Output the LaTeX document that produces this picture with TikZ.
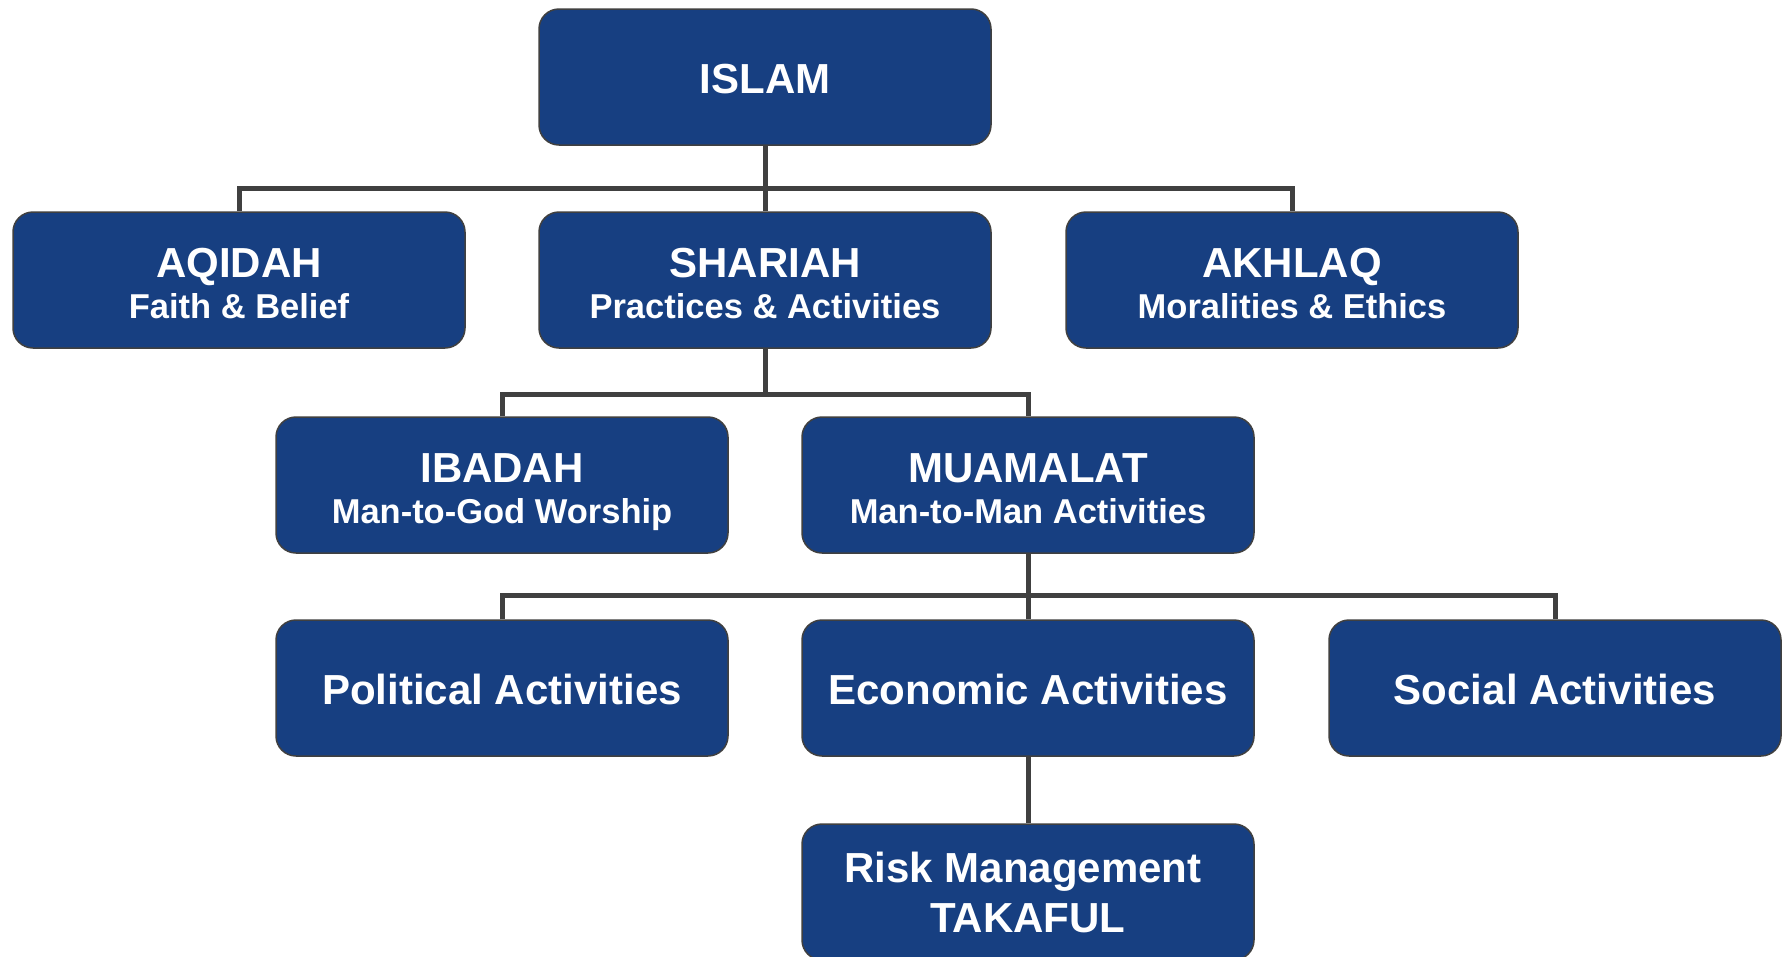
\documentclass[tikz,border=0pt]{standalone}
\usepackage{fontspec}
\setmainfont{Liberation Sans}
\definecolor{boxblue}{HTML}{173F81}
\definecolor{linegray}{HTML}{404040}
\begin{document}
\begin{tikzpicture}[x=1pt,y=-1pt,
  box/.style={draw=linegray, line width=1.5pt, fill=boxblue, rounded corners=20pt,
    minimum width=452pt, minimum height=136pt, inner sep=0pt},
  ttl/.style={text=white, inner sep=0pt, anchor=base, font=\fontsize{42}{50}\selectfont\bfseries},
  sub/.style={text=white, inner sep=0pt, anchor=base, font=\fontsize{34.5}{41}\selectfont\bfseries},
  conn/.style={draw=linegray, line width=5pt}]
\useasboundingbox (0,0) rectangle (1785,956);
\fill[white] (0,0) rectangle (1785,956);
\coordinate (j1) at (765,188);
\coordinate (j2) at (502,394);
\coordinate (j3) at (1028,595);
% boxes
\node[box] (islam) at (765,77) {};
\node[box] (aqidah) at (239,280) {};
\node[box] (shariah) at (765,280) {};
\node[box] (akhlaq) at (1292,280) {};
\node[box] (ibadah) at (502,485) {};
\node[box] (muamalat) at (1028,485) {};
\node[box] (political) at (502,688) {};
\node[box] (economic) at (1028,688) {};
\node[box] (social) at (1555,688) {};
\node[box] (risk) at (1028,892) {};
% texts
\node[ttl] (islam-t) at ([yshift=-16pt]islam.center) {ISLAM};
\node[ttl] (aqidah-t) at ([yshift=3pt]aqidah.center) {AQIDAH};
\node[sub] (aqidah-s) at ([yshift=-38pt]aqidah.center) {Faith \& Belief};
\node[ttl] (shariah-t) at ([yshift=3pt]shariah.center) {SHARIAH};
\node[sub] (shariah-s) at ([yshift=-38pt]shariah.center) {Practices \& Activities};
\node[ttl] (akhlaq-t) at ([yshift=3pt]akhlaq.center) {AKHLAQ};
\node[sub] (akhlaq-s) at ([yshift=-38pt]akhlaq.center) {Moralities \& Ethics};
\node[ttl] (ibadah-t) at ([yshift=3pt]ibadah.center) {IBADAH};
\node[sub] (ibadah-s) at ([yshift=-38pt]ibadah.center) {Man-to-God Worship};
\node[ttl] (muamalat-t) at ([yshift=3pt]muamalat.center) {MUAMALAT};
\node[sub] (muamalat-s) at ([yshift=-38pt]muamalat.center) {Man-to-Man Activities};
\node[ttl] (political-t) at ([yshift=-16pt]political.center) {Political Activities};
\node[ttl] (economic-t) at ([yshift=-16pt]economic.center) {Economic Activities};
\node[ttl] (social-t) at ([yshift=-16pt]social.center) {Social Activities};
\node[ttl] (risk-t) at ([xshift=-5pt,yshift=10pt]risk.center) {Risk Management};
\node[ttl] (risk-s) at ([yshift=-40pt]risk.center) {TAKAFUL};
% connectors
\draw[conn] (islam.south) -- (shariah.north);
\draw[conn] (aqidah.north) |- (j1) -| (akhlaq.north);
\draw[conn] (shariah.south) -- (shariah.south |- j2);
\draw[conn] (ibadah.north) |- (j2) -| (muamalat.north);
\draw[conn] (muamalat.south) -- (economic.north);
\draw[conn] (political.north) |- (j3) -| (social.north);
\draw[conn] (economic.south) -- (risk.north);
\end{tikzpicture}
\end{document}
